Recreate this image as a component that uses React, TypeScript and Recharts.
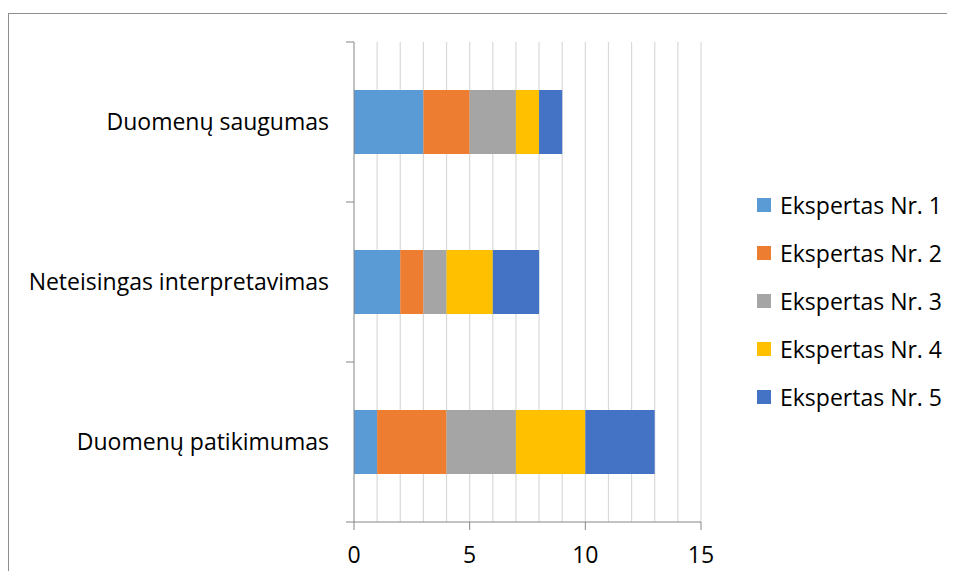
import React from 'react';
import { BarChart, Bar, XAxis, YAxis, CartesianGrid } from 'recharts';

const categories = ['Duomenų saugumas', 'Neteisingas interpretavimas', 'Duomenų patikimumas'];
const seriesNames = ['Ekspertas Nr. 1', 'Ekspertas Nr. 2', 'Ekspertas Nr. 3', 'Ekspertas Nr. 4', 'Ekspertas Nr. 5'];
const expert1 = [3, 2, 1];
const expert2 = [2, 1, 3];
const expert3 = [2, 1, 3];
const expert4 = [1, 2, 3];
const expert5 = [1, 2, 3];
const xTicks = [0, 5, 10, 15];
const gridValues = [1, 2, 3, 4, 5, 6, 7, 8, 9, 10, 11, 12, 13, 14, 15];

const colors = ['#5B9BD5', '#ED7D31', '#A5A5A5', '#FFC000', '#4472C4'];
const seriesKeys = ['e1', 'e2', 'e3', 'e4', 'e5'];

const data = categories.map((name, i) => ({
  name,
  e1: expert1[i],
  e2: expert2[i],
  e3: expert3[i],
  e4: expert4[i],
  e5: expert5[i],
}));

const FONT = '"Open Sans", sans-serif';
const FONT_SIZE = 23;
const AXIS = '#868686';
const BAND_HALF = 80;

// category label plus a short tick mark on each band boundary
const CategoryTick = (props: any) => {
  const { x, y, payload, index, visibleTicksCount } = props;
  return (
    <g>
      <line x1={x - 8} x2={x} y1={y - BAND_HALF} y2={y - BAND_HALF} stroke={AXIS} />
      {index === visibleTicksCount - 1 && (
        <line x1={x - 8} x2={x} y1={y + BAND_HALF} y2={y + BAND_HALF} stroke={AXIS} />
      )}
      <text x={x - 25} y={y} dy="0.35em" textAnchor="end" fill="#000" fontSize={FONT_SIZE} fontFamily={FONT}>
        {payload.value}
      </text>
    </g>
  );
};

export default function App() {
  return (
    <div
      style={{
        marginTop: 5,
        position: 'relative',
        width: 947,
        height: 558,
        borderTop: '1px solid #8e8e8e',
        borderLeft: '1px solid #8e8e8e',
        boxSizing: 'border-box',
      }}
    >
      <BarChart
        width={946}
        height={557}
        data={data}
        layout="vertical"
        margin={{ top: 28, right: 254, bottom: 0, left: 0 }}
        barCategoryGap="30%"
      >
        <CartesianGrid horizontal={false} verticalValues={gridValues} stroke="#d9d9d9" strokeWidth={1.2} />
        <XAxis
          type="number"
          domain={[0, 15]}
          ticks={xTicks}
          height={49}
          tickSize={8}
          tickMargin={17}
          stroke={AXIS}
          tick={{ fill: '#000', fontSize: FONT_SIZE, fontFamily: FONT }}
        />
        <YAxis
          type="category"
          dataKey="name"
          width={345}
          tickLine={false}
          tickSize={0}
          tickMargin={0}
          stroke={AXIS}
          tick={<CategoryTick />}
        />
        {seriesKeys.map((k, i) => (
          <Bar key={k} dataKey={k} name={seriesNames[i]} stackId="a" fill={colors[i]} isAnimationActive={false} />
        ))}
      </BarChart>
      <div
        style={{
          position: 'absolute',
          top: 167,
          left: 748,
          fontFamily: FONT,
          fontSize: FONT_SIZE,
          color: '#000',
        }}
      >
        {seriesNames.map((n, i) => (
          <div key={n} style={{ display: 'flex', alignItems: 'center', height: 48, whiteSpace: 'nowrap' }}>
            <span style={{ width: 14, height: 14, background: colors[i], display: 'inline-block', marginRight: 9 }} />
            <span>{n}</span>
          </div>
        ))}
      </div>
    </div>
  );
}
